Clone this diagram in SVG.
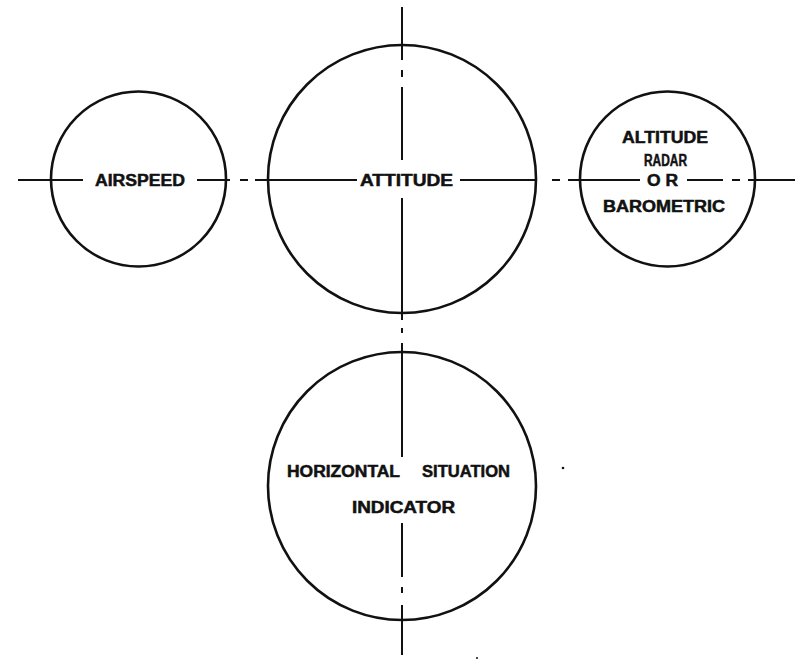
<svg xmlns="http://www.w3.org/2000/svg" width="800" height="661" viewBox="0 0 800 661">
<style>
.gauge{fill:none;stroke:#111;stroke-width:2.6}
.axis{fill:none;stroke:#111;stroke-width:2}
.lbl{font-family:"Liberation Sans",Arial,sans-serif;font-weight:bold;font-size:16px;fill:#111;stroke:#111;stroke-width:0.5}
</style>
<rect width="800" height="661" fill="#fff"/>
<g id="connectors">
<path class="axis" d="M18 180H83M197 180H230M240 180H248M255 180H357M460 180H535M552 180H560M568 180H640M687 180H723M732 180H740M748 180H795"/>
<path class="axis" d="M402 7V60M402 70V77M402 87V160M402 198V320M402 328V333M402 343V457M402 523V577M402 587V593M402 605V655"/>
</g>
<g id="airspeed">
<circle class="gauge" cx="138.5" cy="179" r="87.5"/>
<text class="lbl" x="95" y="186" textLength="90" lengthAdjust="spacingAndGlyphs">AIRSPEED</text>
</g>
<g id="attitude">
<circle class="gauge" cx="402" cy="179" r="134"/>
<text class="lbl" x="360" y="186" textLength="93" lengthAdjust="spacingAndGlyphs">ATTITUDE</text>
</g>
<g id="altitude">
<circle class="gauge" cx="667.5" cy="179" r="87.5"/>
<text class="lbl" x="622" y="143" textLength="86" lengthAdjust="spacingAndGlyphs">ALTITUDE</text>
<text class="lbl" x="644" y="166" textLength="43" lengthAdjust="spacingAndGlyphs">RADAR</text>
<text class="lbl" x="647" y="186" textLength="31" lengthAdjust="spacingAndGlyphs">O R</text>
<text class="lbl" x="603" y="212" textLength="122" lengthAdjust="spacingAndGlyphs">BAROMETRIC</text>
</g>
<g id="hsi">
<circle class="gauge" cx="402" cy="486" r="134"/>
<text class="lbl" x="287" y="477" textLength="113" lengthAdjust="spacingAndGlyphs">HORIZONTAL</text>
<text class="lbl" x="422" y="477" textLength="88" lengthAdjust="spacingAndGlyphs">SITUATION</text>
<text class="lbl" x="352" y="513" textLength="103" lengthAdjust="spacingAndGlyphs">INDICATOR</text>
</g>
<circle cx="563" cy="468" r="1.3" fill="#111"/>
<circle cx="477" cy="658" r="1" fill="#111"/>
</svg>
